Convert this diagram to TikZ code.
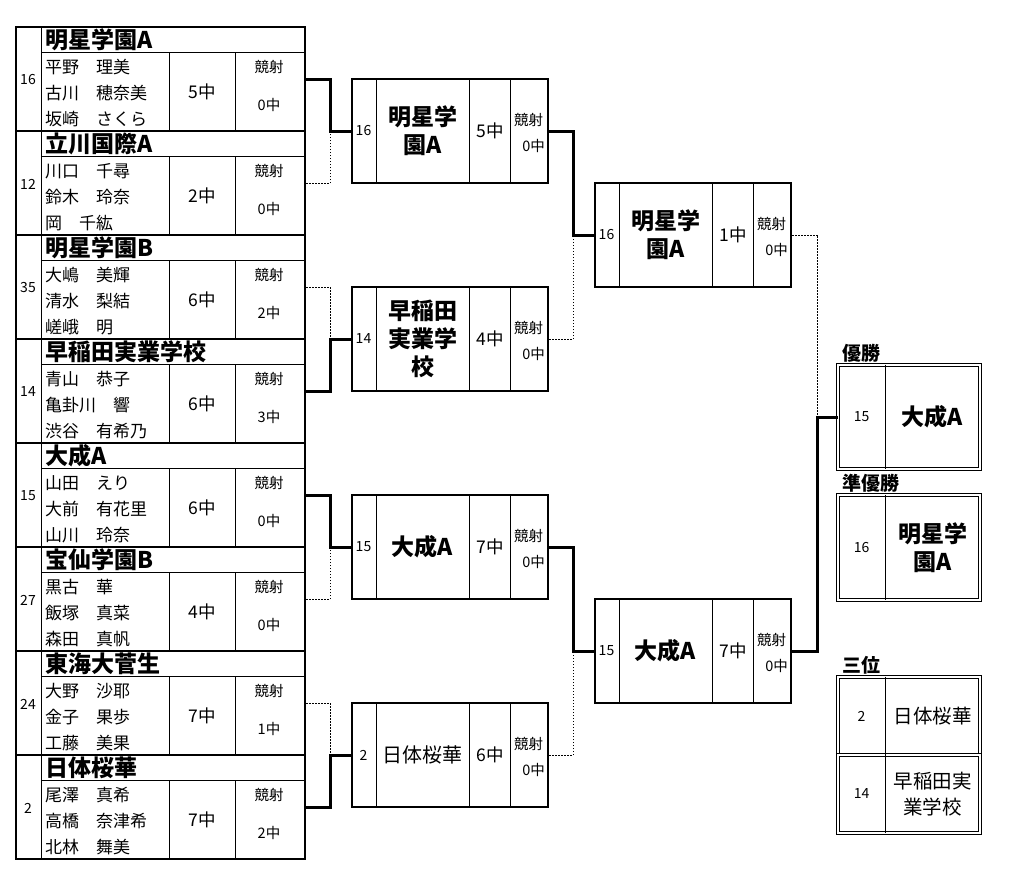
\documentclass[tikz,border=0pt]{standalone}
\usepackage{fontspec}
\setmainfont{Noto Sans CJK JP}
\usetikzlibrary{calc}

\tikzset{
  blk/.style={draw, line width=2pt, minimum width=289pt, minimum height=104pt, inner sep=0pt},
  mtch/.style={draw, line width=2pt, minimum width=196pt, minimum height=104pt, inner sep=0pt},
  finbox/.style={draw, double, line width=0.9pt, double distance=1.3pt, minimum width=142pt, inner sep=0pt},
  thinln/.style={line width=0.9pt},
  wonln/.style={line width=3pt},
  lostln/.style={line width=0.9pt, dash pattern=on 1.5pt off 1.5pt},
  seedtxt/.style={font=\fontsize{14}{16}\selectfont, inner sep=0pt},
  hdrtxt/.style={font=\fontsize{23}{26}\selectfont\bfseries, anchor=west, inner sep=0pt},
  memtxt/.style={font=\fontsize{17}{26}\selectfont, align=left, anchor=west, inner sep=0pt},
  hittxt/.style={font=\fontsize{17.5}{20}\selectfont, inner sep=0pt},
  kyotxt/.style={font=\fontsize{14.5}{16}\selectfont, inner sep=0pt},
  bigtxt/.style={font=\fontsize{23}{28}\selectfont\bfseries, align=center, inner sep=0pt},
  midtxt/.style={font=\fontsize{19.5}{26}\selectfont, align=center, inner sep=0pt},
  ttl/.style={font=\fontsize{19}{22}\selectfont\bfseries, anchor=west, inner sep=0pt},
}

\begin{document}
\begin{tikzpicture}[x=1pt,y=-1pt]
\useasboundingbox (0,0) rectangle (1018,886);
% entry table
\foreach \i/\seed/\team/\hit/\kyo/\mem in {
  1/16/明星学園A/5中/0中/{平野　理美\\古川　穂奈美\\坂崎　さくら},
  2/12/立川国際A/2中/0中/{川口　千尋\\鈴木　玲奈\\岡　千紘},
  3/35/明星学園B/6中/2中/{大嶋　美輝\\清水　梨結\\嵯峨　明},
  4/14/早稲田実業学校/6中/3中/{青山　恭子\\亀卦川　響\\渋谷　有希乃},
  5/15/大成A/6中/0中/{山田　えり\\大前　有花里\\山川　玲奈},
  6/27/宝仙学園B/4中/0中/{黒古　華\\飯塚　真菜\\森田　真帆},
  7/24/東海大菅生/7中/1中/{大野　沙耶\\金子　果歩\\工藤　美果},
  8/2/日体桜華/7中/2中/{尾澤　真希\\高橋　奈津希\\北林　舞美}}{
  \node[blk] (t\i) at (160.5,{79+104*(\i-1)}) {};
  \draw[thinln] ($(t\i.north west)+(26,0)$) -- ($(t\i.south west)+(26,0)$);
  \draw[thinln] ($(t\i.north west)+(26,26)$) -- ($(t\i.north east)+(0,26)$);
  \draw[thinln] ($(t\i.north west)+(154,26)$) -- ($(t\i.south west)+(154,0)$);
  \draw[thinln] ($(t\i.north west)+(220,26)$) -- ($(t\i.south west)+(220,0)$);
  \node[seedtxt] (t\i-s) at ($(t\i.west)+(13,1)$) {\seed};
  \node[hdrtxt] (t\i-h) at ($(t\i.north west)+(30,14)$) {\team};
  \node[memtxt] (t\i-m) at ($(t\i.north west)+(30,67)$) {\mem};
  \node[hittxt] (t\i-p) at ($(t\i.north west)+(187,66)$) {\hit};
  \node[kyotxt] (t\i-k) at ($(t\i.north west)+(254,41)$) {競射};
  \node[kyotxt] (t\i-x) at ($(t\i.north west)+(254,79)$) {\kyo};
}
% match boxes
\foreach \nm/\cx/\cy/\seed/\team/\hit in {
  r1/450/131/16/{明星学\\園A}/5中,
  r2/450/339/14/{早稲田\\実業学\\校}/4中,
  r3/450/547/15/大成A/7中,
  r4/450/755/2/{\fontsize{20}{24}\selectfont\mdseries 日体桜華}/6中,
  s1/693/235/16/{明星学\\園A}/1中,
  s2/693/651/15/大成A/7中}{
  \node[mtch] (\nm) at (\cx,\cy) {};
  \draw[thinln] ($(\nm.north west)+(25,0)$) -- ($(\nm.south west)+(25,0)$);
  \draw[thinln] ($(\nm.north west)+(118,0)$) -- ($(\nm.south west)+(118,0)$);
  \draw[thinln] ($(\nm.north west)+(159,0)$) -- ($(\nm.south west)+(159,0)$);
  \node[seedtxt] (\nm-s) at ($(\nm.west)+(12.5,0)$) {\seed};
  \node[bigtxt] (\nm-n) at ($(\nm.west)+(71.5,0)$) {\team};
  \node[hittxt] (\nm-p) at ($(\nm.west)+(139,0)$) {\hit};
  \node[kyotxt] (\nm-k) at ($(\nm.west)+(177.5,-11)$) {競射};
  \node[kyotxt, anchor=east] (\nm-x) at ($(\nm.west)+(194,15)$) {0中};
}
% results
\node[finbox, minimum height=104pt] (w1) at (909,417) {};
\node[finbox, minimum height=105pt] (w2) at (909,547.5) {};
\node[finbox, minimum height=78pt] (w3) at (909,716) {};
\node[finbox, minimum height=78pt] (w4) at (909,794) {};
\foreach \nm in {w1,w2,w3,w4}
  \draw[thinln] ($(\nm.north west)+(48,0)$) -- ($(\nm.south west)+(48,0)$);
\node[seedtxt] (w1-s) at ($(w1.west)+(24,0)$) {15};
\node[bigtxt] (w1-n) at ($(w1.west)+(95,0)$) {大成A};
\node[seedtxt] (w2-s) at ($(w2.west)+(24,0)$) {16};
\node[bigtxt] (w2-n) at ($(w2.west)+(95,0)$) {明星学\\園A};
\node[seedtxt] (w3-s) at ($(w3.west)+(24,0)$) {2};
\node[midtxt] (w3-n) at ($(w3.west)+(95,0)$) {日体桜華};
\node[seedtxt] (w4-s) at ($(w4.west)+(24,0)$) {14};
\node[midtxt] (w4-n) at ($(w4.west)+(95,0)$) {早稲田実\\業学校};
\node[ttl] (l1) at (842,353) {優勝};
\node[ttl] (l2) at (842,483) {準優勝};
\node[ttl] (l3) at (842,665) {三位};
% bracket lines
\draw[lostln] (t2.east) -| ($(r1.west)+(-21,0)$);
\draw[wonln] (t1.east) -| ($(r1.west)+(-21,0)$) -- (r1.west);
\draw[lostln] (t3.east) -| ($(r2.west)+(-21,0)$);
\draw[wonln] (t4.east) -| ($(r2.west)+(-21,0)$) -- (r2.west);
\draw[lostln] (t6.east) -| ($(r3.west)+(-21,0)$);
\draw[wonln] (t5.east) -| ($(r3.west)+(-21,0)$) -- (r3.west);
\draw[lostln] (t7.east) -| ($(r4.west)+(-21,0)$);
\draw[wonln] (t8.east) -| ($(r4.west)+(-21,0)$) -- (r4.west);
\draw[lostln] (r2.east) -| ($(s1.west)+(-21,0)$);
\draw[wonln] (r1.east) -| ($(s1.west)+(-21,0)$) -- (s1.west);
\draw[lostln] (r4.east) -| ($(s2.west)+(-21,0)$);
\draw[wonln] (r3.east) -| ($(s2.west)+(-21,0)$) -- (s2.west);
\draw[lostln] (s1.east) -| ($(w1.west)+(-20,0)$);
\draw[wonln] (s2.east) -| ($(w1.west)+(-20,0)$) -- (w1.west);
\end{tikzpicture}
\end{document}
